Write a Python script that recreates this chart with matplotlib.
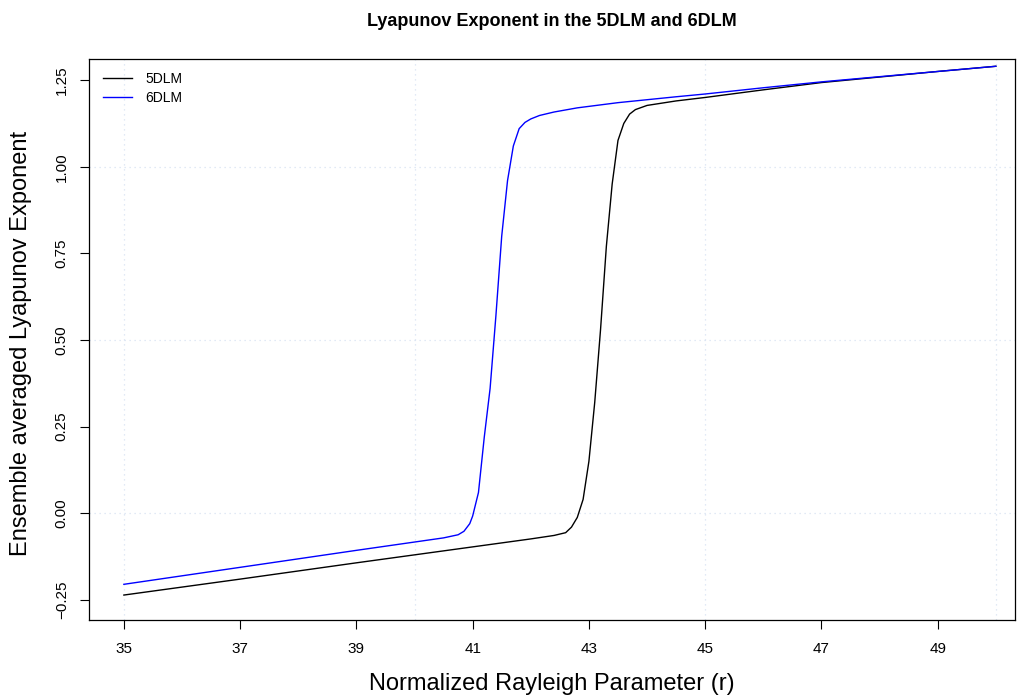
import matplotlib
matplotlib.use("Agg")
import matplotlib.pyplot as plt

plt.rcParams['font.family'] = ['Liberation Sans', 'DejaVu Sans']

# ---- data ----
r_5dlm = [35, 37, 39, 40, 41, 42, 42.4, 42.6, 42.7, 42.8, 42.9, 43.0, 43.1,
          43.2, 43.3, 43.4, 43.5, 43.6, 43.7, 43.8, 44.0, 44.5, 45, 46, 47,
          48, 49, 50]
le_5dlm = [-0.236, -0.190, -0.143, -0.120, -0.097, -0.074, -0.064, -0.056,
           -0.040, -0.012, 0.040, 0.150, 0.320, 0.530, 0.770, 0.950, 1.076,
           1.125, 1.152, 1.165, 1.177, 1.190, 1.200, 1.222, 1.243, 1.259,
           1.275, 1.290]

r_6dlm = [35, 37, 39, 40, 40.5, 40.75, 40.85, 40.95, 41.0, 41.1, 41.2, 41.3,
          41.4, 41.5, 41.6, 41.7, 41.8, 41.9, 42.0, 42.15, 42.4, 42.8, 43.5,
          44.5, 45, 46, 47, 48, 49, 50]
le_6dlm = [-0.205, -0.156, -0.107, -0.083, -0.071, -0.062, -0.052, -0.030,
           -0.008, 0.060, 0.220, 0.360, 0.570, 0.800, 0.960, 1.060, 1.110,
           1.128, 1.138, 1.148, 1.158, 1.170, 1.185, 1.202, 1.210, 1.228,
           1.245, 1.260, 1.275, 1.290]

series_labels = ["5DLM", "6DLM"]
series_colors = ["black", "#0000FF"]

x_ticks = [35, 37, 39, 41, 43, 45, 47, 49]
y_ticks = [-0.25, 0.00, 0.25, 0.50, 0.75, 1.00, 1.25]
y_tick_labels = ["\u22120.25", "0.00", "0.25", "0.50", "0.75", "1.00", "1.25"]
grid_x = [35, 40, 45, 50]
grid_y = [-0.5, 0.0, 0.5, 1.0]

title = "Lyapunov Exponent in the 5DLM and 6DLM"
xlabel = "Normalized Rayleigh Parameter (r)"
ylabel = "Ensemble averaged Lyapunov Exponent"

# ---- figure ----
W, H = 1023, 700
fig = plt.figure(figsize=(W / 100, H / 100), dpi=100)
ax = fig.add_axes([89 / W, (H - 620) / H, (1015 - 89) / W, (620 - 59) / H])

ax.set_xlim(34.40, 50.33)
ax.set_ylim(-0.308, 1.311)

gcol = "#d8e2f2"
for gx in grid_x:
    ax.axvline(gx, color=gcol, lw=0.9, ls=(0, (1, 3)), zorder=0)
for gy in grid_y:
    ax.axhline(gy, color=gcol, lw=0.9, ls=(0, (1, 3)), zorder=0)

ax.plot(r_5dlm, le_5dlm, color=series_colors[0], lw=1.0, label=series_labels[0])
ax.plot(r_6dlm, le_6dlm, color=series_colors[1], lw=1.0, label=series_labels[1])

ax.set_xticks(x_ticks)
ax.set_xticklabels([str(t) for t in x_ticks])
ax.set_yticks(y_ticks)
ax.set_yticklabels(y_tick_labels, rotation=90, va='center')
ax.tick_params(axis='both', direction='out', length=6.5, width=0.8,
               labelsize=11, color='black')
ax.tick_params(axis='x', pad=9)
ax.tick_params(axis='y', pad=8)
for s in ax.spines.values():
    s.set_linewidth(0.9)
    s.set_color('black')

fig.text(0.5 * (89 + 1015) / W, 1 - 21 / H, title, ha='center', va='center',
         fontsize=13, fontweight='bold')
fig.text((89 + 1015) / 2 / W, 1 - 684 / H, xlabel, ha='center', va='center',
         fontsize=17)
fig.text(21 / W, 1 - 343 / H, ylabel, ha='center', va='center',
         rotation=90, fontsize=17)

leg = ax.legend(loc='upper left', bbox_to_anchor=(103 / W, 1 - 72 / H),
                bbox_transform=fig.transFigure, frameon=False, fontsize=10,
                handlelength=2.1, handletextpad=0.95, labelspacing=0.35,
                borderaxespad=0, borderpad=0)

fig.savefig("out.png", dpi=100)
